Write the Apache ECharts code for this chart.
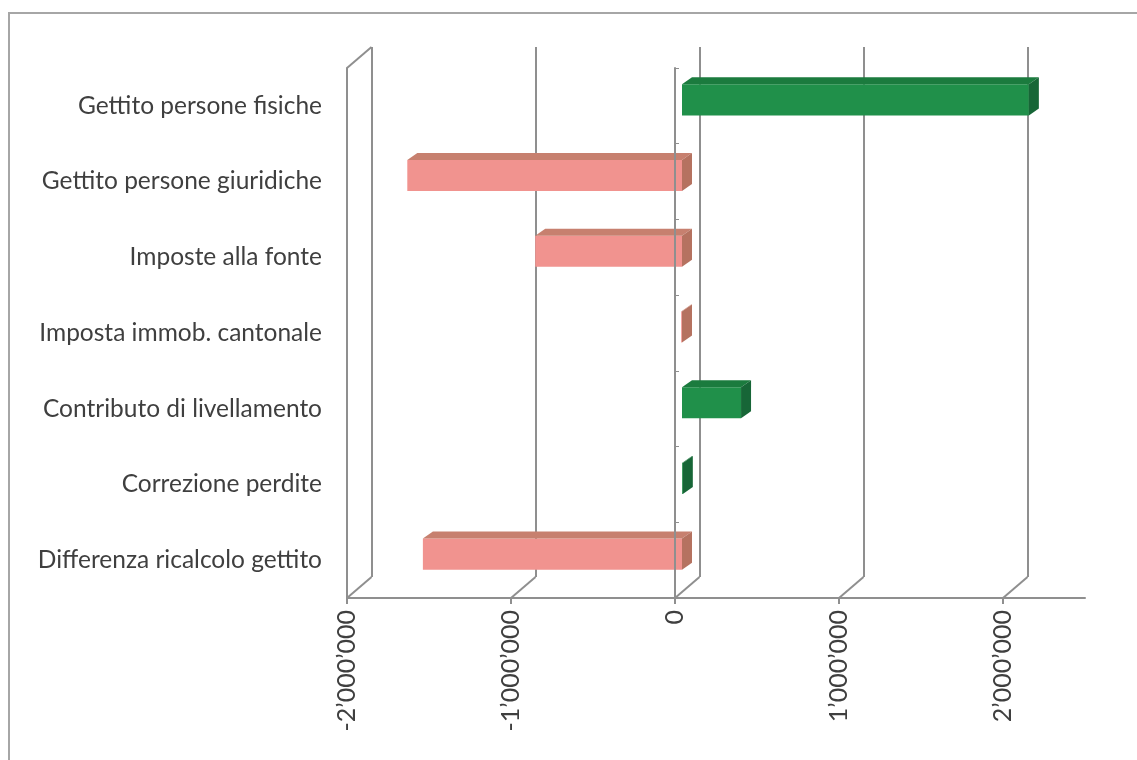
<!DOCTYPE html>
<html>
<head>
<meta charset="utf-8">
<script src="https://cdn.jsdelivr.net/npm/echarts@6/dist/echarts.min.js"></script>
<style>
  html, body { margin: 0; padding: 0; background: #fff; }
  #frame { position: absolute; left: 8px; top: 12px; right: 0; bottom: 0;
           border-top: 2px solid #a6a6a6; border-left: 2px solid #a6a6a6; }
  #chart { position: absolute; left: 0; top: 0; width: 1137px; height: 760px; }
</style>
</head>
<body>
<div id="frame"></div>
<div id="chart"></div>
<script>
// Categories (top to bottom) and their amounts in CHF
const categories = [
  'Gettito persone fisiche',
  'Gettito persone giuridiche',
  'Imposte alla fonte',
  'Imposta immob. cantonale',
  'Contributo di livellamento',
  'Correzione perdite',
  'Differenza ricalcolo gettito'
];
const values = [2115000, -1675000, -895000, -5000, 360000, 5000, -1580000];

// Value axis range and labelled ticks
const axisMin = -2000000;
const axisMax = 2500000;
const axisStep = 1000000;
const tickValues = [-2000000, -1000000, 0, 1000000, 2000000];

// Perspective offsets of the box drawing
const DEPTH_X = 24.5, DEPTH_Y = -21;      // front plane -> back wall
const BAR_X = 7, BAR_Y = -6;              // front plane -> bar front face
const BOX_X = 10, BOX_Y = -7;             // bar depth
const BAR_RATIO = 0.41;

const GRID = { left: 347, top: 68, width: 738, height: 530 };
const LINE = '#8f8f8f';
const TEXT = '#3f3f3f';
const FONT = 'Lato';

const colors = {
  pos: { front: '#20904a', top: '#1b7b3e', side: '#176637' },
  neg: { front: '#f1938f', top: '#c7806f', side: '#b57260' }
};

function fmt(v) {
  if (v % axisStep !== 0) return '';
  const s = Math.abs(v).toString().replace(/\B(?=(\d{3})+(?!\d))/g, '\u2019');
  return (v < 0 ? '-' : '') + s;
}

function valueAxis(gridIndex, extra) {
  return Object.assign({
    type: 'value', gridIndex, min: axisMin, max: axisMax, interval: axisStep,
    axisLine: { show: false }, axisTick: { show: false },
    axisLabel: { show: false }, splitLine: { show: false }
  }, extra || {});
}
function catAxis(gridIndex, extra) {
  return Object.assign({
    type: 'category', gridIndex, data: categories, inverse: true,
    axisLine: { show: false, onZero: false }, axisTick: { show: false },
    axisLabel: { show: false }, splitLine: { show: false }
  }, extra || {});
}

const chart = echarts.init(document.getElementById('chart'), null, { renderer: 'canvas' });

chart.setOption({
  animation: false,
  grid: [
    // front plane (axes, labels)
    Object.assign({ outerBoundsMode: 'none' }, GRID),
    // back wall (gridlines)
    { outerBoundsMode: 'none', left: GRID.left + DEPTH_X, top: GRID.top + DEPTH_Y, width: GRID.width, height: GRID.height },
    // bars
    { outerBoundsMode: 'none', left: GRID.left + BAR_X, top: GRID.top + BAR_Y, width: GRID.width, height: GRID.height }
  ],
  xAxis: [
    valueAxis(0, {
      axisLine: { show: true, onZero: false, lineStyle: { color: LINE, width: 2 } },
      axisLabel: {
        show: true, rotate: 90, margin: 12, formatter: fmt, showMaxLabel: false,
        color: TEXT, fontFamily: FONT, fontSize: 25
      }
    }),
    valueAxis(1, {
      splitLine: { show: true, showMaxLine: false, lineStyle: { color: LINE, width: 2 } }
    }),
    valueAxis(2)
  ],
  yAxis: [
    catAxis(0, {
      axisLine: { show: true, onZero: false, lineStyle: { color: LINE, width: 2 } },
      axisLabel: { show: true, margin: 25, color: TEXT, fontFamily: FONT, fontSize: 24.5 }
    }),
    // zero line of the front plane
    catAxis(0, {
      z: 10,
      axisLine: { show: true, onZero: true, onZeroAxisIndex: 0, lineStyle: { color: LINE, width: 2 } },
      axisTick: { show: true, length: 4, lineStyle: { color: LINE, width: 1 } }
    }),
    catAxis(1),
    catAxis(2)
  ],
  series: [
    {
      // floor lines, axis ticks and top-left wall edge
      type: 'custom',
      xAxisIndex: 0, yAxisIndex: 0,
      silent: true, clip: false, z: 1,
      data: tickValues.map(v => [v, 0]),
      encode: { x: 0, y: 1 },
      renderItem(params, api) {
        const cs = params.coordSys;
        const x = api.coord([api.value(0), 0])[0];
        const yb = cs.y + cs.height;
        const style = { stroke: LINE, lineWidth: 2 };
        const children = [
          { type: 'line', shape: { x1: x, y1: yb, x2: x + DEPTH_X, y2: yb + DEPTH_Y }, style },
          { type: 'line', shape: { x1: x, y1: yb, x2: x, y2: yb + 6 }, style }
        ];
        if (params.dataIndex === 0) {
          children.push({ type: 'line', shape: { x1: x, y1: cs.y, x2: x + DEPTH_X, y2: cs.y + DEPTH_Y }, style });
        }
        return { type: 'group', children };
      }
    },
    {
      // 3D bars
      type: 'custom',
      xAxisIndex: 2, yAxisIndex: 3,
      clip: false, z: 2,
      data: values.map((v, i) => [v, i]),
      encode: { x: 0, y: 1 },
      renderItem(params, api) {
        const v = api.value(0);
        const i = api.value(1);
        const p0 = api.coord([0, i]);
        const p1 = api.coord([v, i]);
        const h = api.size([0, 1])[1] * BAR_RATIO;
        const xl = Math.min(p0[0], p1[0]);
        const xr = Math.max(p0[0], p1[0]);
        const yt = p0[1] - h / 2, yb = p0[1] + h / 2;
        const c = v >= 0 ? colors.pos : colors.neg;
        return {
          type: 'group',
          children: [
            { type: 'rect', shape: { x: xl, y: yt, width: xr - xl, height: h }, style: { fill: c.front } },
            { type: 'polygon', shape: { points: [[xl, yt], [xr, yt], [xr + BOX_X, yt + BOX_Y], [xl + BOX_X, yt + BOX_Y]] }, style: { fill: c.top } },
            { type: 'polygon', shape: { points: [[xr, yt], [xr + BOX_X, yt + BOX_Y], [xr + BOX_X, yb + BOX_Y], [xr, yb]] }, style: { fill: c.side } }
          ]
        };
      }
    }
  ]
});
</script>
</body>
</html>
